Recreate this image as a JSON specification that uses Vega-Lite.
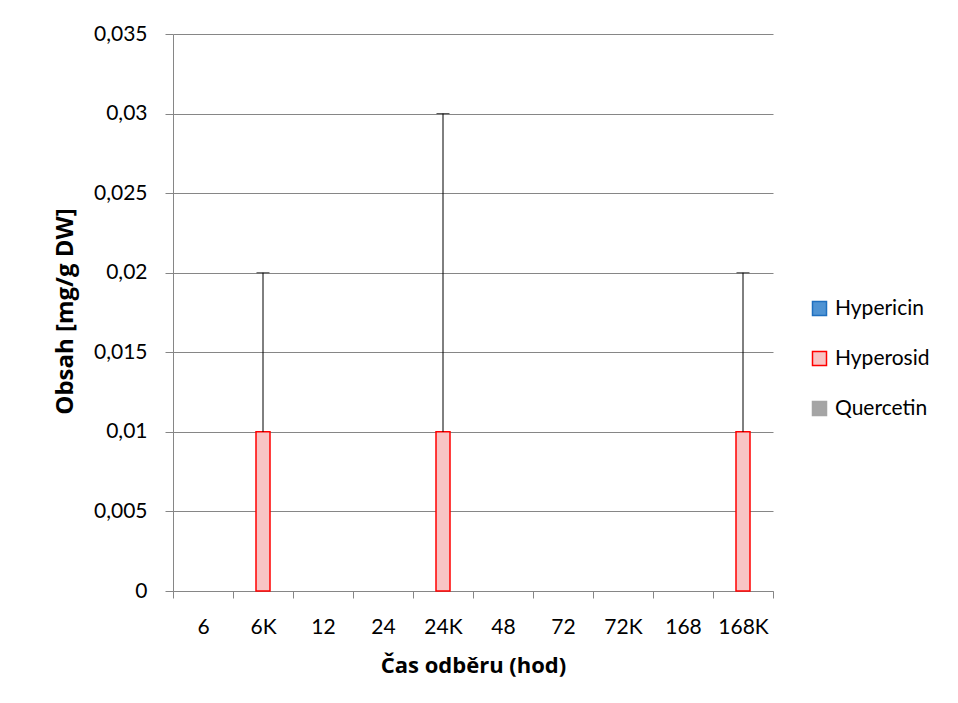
{
  "$schema": "https://vega.github.io/schema/vega-lite/v6.json",
  "width": 600,
  "height": 557,
  "autosize": "none",
  "padding": {"left": 173, "top": 34, "right": 185, "bottom": 112},
  "background": "white",
  "config": {
    "font": "Lato",
    "view": {"stroke": null},
    "axis": {"labelFont": "Lato", "titleFont": "Open Sans", "labelColor": "black", "titleColor": "black", "labelFontSize": 21, "titleFontSize": 22, "titleFontWeight": "bold"},
    "legend": {"labelFont": "Lato", "labelFontSize": 21, "labelColor": "black"}
  },
  "data": {
    "values": [
      {"cas": "6", "latka": "Hypericin", "obsah": 0},
      {"cas": "6", "latka": "Hyperosid", "obsah": 0},
      {"cas": "6", "latka": "Quercetin", "obsah": 0},
      {"cas": "6K", "latka": "Hypericin", "obsah": 0},
      {"cas": "6K", "latka": "Hyperosid", "obsah": 0.01, "horni": 0.02},
      {"cas": "6K", "latka": "Quercetin", "obsah": 0},
      {"cas": "12", "latka": "Hypericin", "obsah": 0},
      {"cas": "12", "latka": "Hyperosid", "obsah": 0},
      {"cas": "12", "latka": "Quercetin", "obsah": 0},
      {"cas": "24", "latka": "Hypericin", "obsah": 0},
      {"cas": "24", "latka": "Hyperosid", "obsah": 0},
      {"cas": "24", "latka": "Quercetin", "obsah": 0},
      {"cas": "24K", "latka": "Hypericin", "obsah": 0},
      {"cas": "24K", "latka": "Hyperosid", "obsah": 0.01, "horni": 0.03},
      {"cas": "24K", "latka": "Quercetin", "obsah": 0},
      {"cas": "48", "latka": "Hypericin", "obsah": 0},
      {"cas": "48", "latka": "Hyperosid", "obsah": 0},
      {"cas": "48", "latka": "Quercetin", "obsah": 0},
      {"cas": "72", "latka": "Hypericin", "obsah": 0},
      {"cas": "72", "latka": "Hyperosid", "obsah": 0},
      {"cas": "72", "latka": "Quercetin", "obsah": 0},
      {"cas": "72K", "latka": "Hypericin", "obsah": 0},
      {"cas": "72K", "latka": "Hyperosid", "obsah": 0},
      {"cas": "72K", "latka": "Quercetin", "obsah": 0},
      {"cas": "168", "latka": "Hypericin", "obsah": 0},
      {"cas": "168", "latka": "Hyperosid", "obsah": 0},
      {"cas": "168", "latka": "Quercetin", "obsah": 0},
      {"cas": "168K", "latka": "Hypericin", "obsah": 0},
      {"cas": "168K", "latka": "Hyperosid", "obsah": 0.01, "horni": 0.02},
      {"cas": "168K", "latka": "Quercetin", "obsah": 0}
    ]
  },
  "encoding": {
    "x": {
      "field": "cas",
      "type": "nominal",
      "sort": null,
      "scale": {"paddingInner": 0, "paddingOuter": 0},
      "axis": {
        "title": "Čas odběru (hod)",
        "labelAngle": 0,
        "labelBaseline": "alphabetic",
        "labelPadding": 35,
        "tickBand": "extent",
        "tickSize": 7,
        "tickColor": "#868686",
        "domainColor": "#868686",
        "grid": false,
        "titleY": 81,
        "titleBaseline": "alphabetic"
      }
    },
    "xOffset": {
      "field": "latka",
      "type": "nominal",
      "scale": {"domain": ["Hypericin", "Hyperosid", "Quercetin"], "paddingInner": 0, "paddingOuter": 0.643}
    }
  },
  "layer": [
    {
      "mark": {"type": "bar"},
      "encoding": {
        "y": {
          "field": "obsah",
          "type": "quantitative",
          "scale": {"domain": [0, 0.035], "nice": false},
          "axis": {
            "title": "Obsah [mg/g DW]",
            "titleFontSize": 24,
            "values": [0, 0.005, 0.01, 0.015, 0.02, 0.025, 0.03, 0.035],
            "labelExpr": "replace(format(datum.value, '.3~f'), '.', ',')",
            "tickSize": 8,
            "labelPadding": 18,
            "tickColor": "#868686",
            "domainColor": "#868686",
            "gridColor": "#868686",
            "gridWidth": 1,
            "titleX": -101,
            "titleY": 277,
            "titleAngle": -90,
            "titleBaseline": "alphabetic",
            "titleAlign": "center"
          }
        },
        "fill": {
          "field": "latka",
          "type": "nominal",
          "scale": {"domain": ["Hypericin", "Hyperosid", "Quercetin"], "range": ["#4f93d3", "#f8c4c4", "#a5a5a5"]},
          "legend": {
            "title": null,
            "orient": "none",
            "legendX": 636,
            "legendY": 264,
            "symbolType": "square",
            "symbolSize": 196,
            "symbolStrokeWidth": 1.5,
            "rowPadding": 28,
            "labelOffset": 5,
            "padding": 0
          }
        },
        "stroke": {
          "field": "latka",
          "type": "nominal",
          "scale": {"domain": ["Hypericin", "Hyperosid", "Quercetin"], "range": ["#1f6fbf", "#ff0000", "#a5a5a5"]}
        },
        "strokeWidth": {"condition": {"test": "datum.obsah > 0", "value": 1.5}, "value": 0}
      }
    },
    {
      "transform": [{"filter": "datum.horni != null"}],
      "mark": {"type": "rule", "color": "black", "strokeWidth": 1},
      "encoding": {
        "y": {"field": "obsah", "type": "quantitative"},
        "y2": {"field": "horni"}
      }
    },
    {
      "transform": [{"filter": "datum.horni != null"}],
      "mark": {"type": "tick", "color": "black", "thickness": 1, "size": 13, "orient": "horizontal"},
      "encoding": {
        "y": {"field": "horni", "type": "quantitative"}
      }
    }
  ]
}
